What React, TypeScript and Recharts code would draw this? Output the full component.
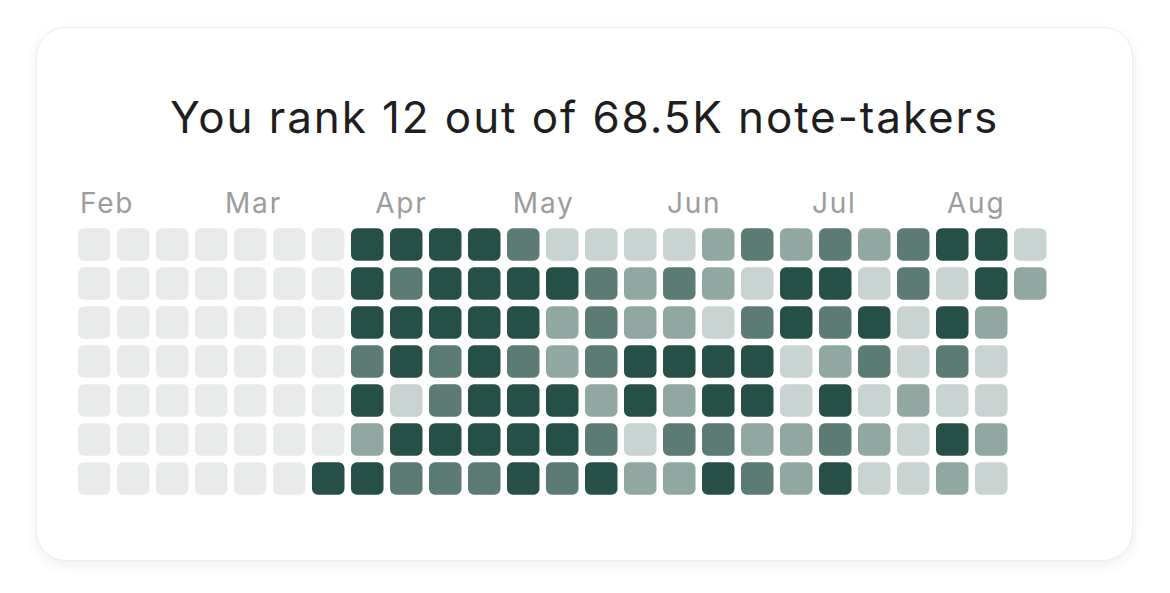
import React from 'react';
import { ScatterChart, Scatter, XAxis, YAxis } from 'recharts';

// activity level per weekday row (0 = none .. 4 = most), one value per week column
const row1 = [0, 0, 0, 0, 0, 0, 0, 4, 4, 4, 4, 3, 1, 1, 1, 1, 2, 3, 2, 3, 2, 3, 4, 4, 1];
const row2 = [0, 0, 0, 0, 0, 0, 0, 4, 3, 4, 4, 4, 4, 3, 2, 3, 2, 1, 4, 4, 1, 3, 1, 4, 2];
const row3 = [0, 0, 0, 0, 0, 0, 0, 4, 4, 4, 4, 4, 2, 3, 2, 2, 1, 3, 4, 3, 4, 1, 4, 2];
const row4 = [0, 0, 0, 0, 0, 0, 0, 3, 4, 3, 4, 3, 2, 3, 4, 4, 4, 4, 1, 2, 3, 1, 3, 1];
const row5 = [0, 0, 0, 0, 0, 0, 0, 4, 1, 3, 4, 4, 4, 2, 4, 2, 4, 4, 1, 4, 1, 2, 1, 1];
const row6 = [0, 0, 0, 0, 0, 0, 0, 2, 4, 4, 4, 4, 4, 3, 1, 3, 3, 2, 2, 3, 2, 1, 4, 2];
const row7 = [0, 0, 0, 0, 0, 0, 4, 4, 3, 3, 3, 4, 3, 4, 2, 2, 4, 3, 2, 4, 1, 1, 2, 1];

const rows = [row1, row2, row3, row4, row5, row6, row7];

// month labels and where they start, in week columns
const months = ['Feb', 'Mar', 'Apr', 'May', 'Jun', 'Jul', 'Aug'];
const monthStarts = [0.05, 3.77, 7.62, 11.15, 15.1, 18.82, 22.28];

const levelColors = ['#e9ebea', '#c9d4d2', '#91a8a2', '#5b7b74', '#264f47'];

const cells = rows.flatMap((row, day) =>
  row.map((level, week) => ({ week, day, level }))
);

const CELL = 32.5;

const Cell = (props: any) => {
  const { cx, cy, payload } = props;
  return (
    <rect
      x={cx - CELL / 2}
      y={cy - CELL / 2}
      width={CELL}
      height={CELL}
      rx={6}
      ry={6}
      fill={levelColors[payload.level]}
    />
  );
};

const MonthTick = (props: any) => {
  const { x, y, payload } = props;
  const idx = monthStarts.indexOf(payload.value);
  return (
    <text
      x={x - CELL / 2}
      y={y}
      textAnchor="start"
      fill="#9c9c9c"
      fontSize={28}
      letterSpacing={1.8}
      fontFamily="Inter, 'Noto Sans', sans-serif"
    >
      {months[idx]}
    </text>
  );
};

export default function App() {
  return (
    <div
      style={{
        position: 'fixed',
        left: 0,
        top: 0,
        width: 1170,
        height: 593,
        background: '#ffffff',
        fontFamily: "Inter, 'Noto Sans', sans-serif",
      }}
    >
      <div
        style={{
          position: 'absolute',
          left: 36,
          top: 27,
          width: 1097,
          height: 534,
          boxSizing: 'border-box',
          borderRadius: 30,
          border: '1px solid #ececec',
          boxShadow: '0 4px 14px rgba(0,0,0,0.07)',
          background: '#fff',
        }}
      />
      <div
        style={{
          position: 'absolute',
          left: 36,
          width: 1097,
          top: 89,
          textAlign: 'center',
          fontSize: 44,
          letterSpacing: 1.9,
          color: '#1e1e1e',
          lineHeight: '56px',
        }}
      >
        You rank 12 out of 68.5K note-takers
      </div>
      <div style={{ position: 'absolute', left: 0, top: 0 }}>
        <ScatterChart
          width={1170}
          height={593}
          margin={{ top: 195, right: 120.25, bottom: 95, left: 74.75 }}
        >
          <XAxis
            type="number"
            dataKey="week"
            orientation="top"
            height={30}
            domain={[-0.5, 24.5]}
            ticks={monthStarts}
            interval={0}
            axisLine={false}
            tickLine={false}
            tickSize={0}
            tickMargin={12}
            tick={<MonthTick />}
          />
          <YAxis type="number" dataKey="day" domain={[-0.5, 6.5]} reversed hide width={0} />
          <Scatter data={cells} shape={<Cell />} isAnimationActive={false} />
        </ScatterChart>
      </div>
    </div>
  );
}
